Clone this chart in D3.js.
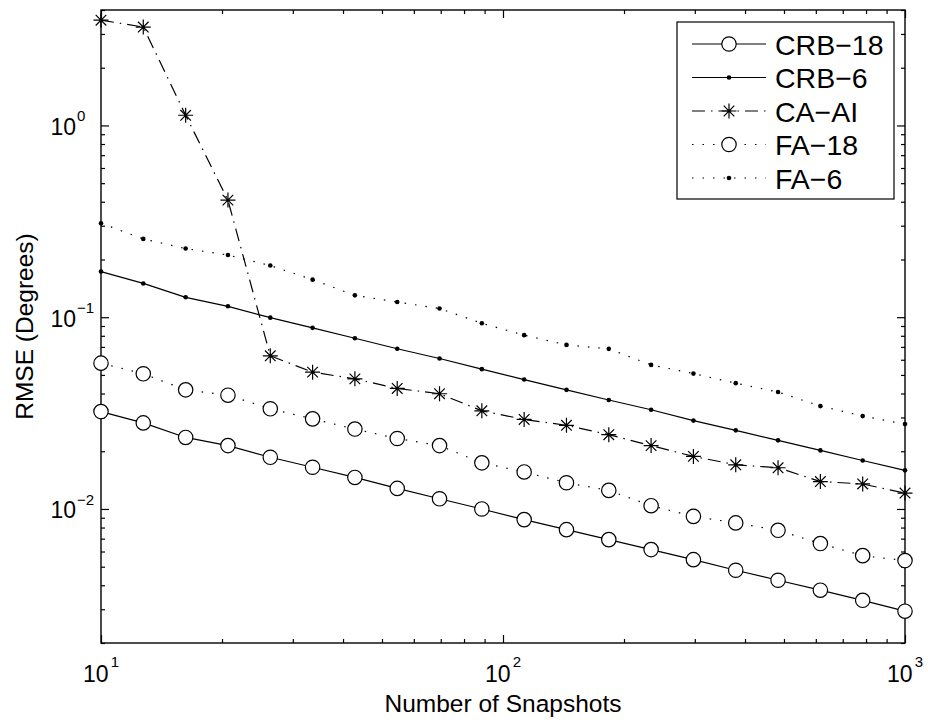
<!DOCTYPE html>
<html>
<head>
<meta charset="utf-8">
<script src="https://cdn.jsdelivr.net/npm/d3@7"></script>
<style>
  html, body { margin: 0; padding: 0; background: #fff; }
  svg { display: block; font-family: "Liberation Sans", Arial, sans-serif; }
</style>
</head>
<body>
<svg id="chart" width="928" height="722"></svg>
<script>
// ---------------- data ----------------
const snapshots = [10, 12.74, 16.24, 20.69, 26.37, 33.60, 42.81, 54.56, 69.52, 88.59,
                   112.88, 143.84, 183.30, 233.57, 297.64, 379.27, 483.29, 615.85, 784.76, 1000];

const crb18 = [0.0322, 0.0281, 0.0236, 0.0214, 0.0186, 0.0165, 0.0146, 0.0128, 0.0113, 0.0100,
               0.0088, 0.0078, 0.00692, 0.00614, 0.00544, 0.00479, 0.00425, 0.00377, 0.00334, 0.00293];
const crb6  = [0.173, 0.150, 0.127, 0.114, 0.0995, 0.0880, 0.0777, 0.0685, 0.0609, 0.0536,
               0.0473, 0.0418, 0.0370, 0.0329, 0.0289, 0.0257, 0.0228, 0.0202, 0.0179, 0.0159];
const caai  = [3.54, 3.26, 1.13, 0.408, 0.0629, 0.0517, 0.0477, 0.0425, 0.0399, 0.0325,
               0.0293, 0.0273, 0.0244, 0.0214, 0.0188, 0.0170, 0.0164, 0.0139, 0.0135, 0.0121];
const fa18  = [0.0576, 0.0507, 0.0418, 0.0392, 0.0333, 0.0295, 0.0261, 0.0233, 0.0214, 0.0174,
               0.0156, 0.0137, 0.0125, 0.0104, 0.00915, 0.00846, 0.00774, 0.00660, 0.00571, 0.00538];
const fa6   = [0.309, 0.256, 0.228, 0.211, 0.186, 0.157, 0.130, 0.120, 0.111, 0.0930,
               0.0806, 0.0717, 0.0684, 0.0564, 0.0508, 0.0453, 0.0407, 0.0344, 0.0305, 0.0277];

const seriesNames = ["CRB−18", "CRB−6", "CA−AI", "FA−18", "FA−6"];
const seriesValues = [crb18, crb6, caai, fa18, fa6];

const xMajorTicks = [10, 100, 1000];
const xMajorExp = ["1", "2", "3"];
const yMajorTicks = [0.01, 0.1, 1];
const yMajorExp = ["−2", "−1", "0"];
const xLabel = "Number of Snapshots";
const yLabel = "RMSE (Degrees)";

// ---------------- styles ----------------
const styles = [
  { dash: null,           marker: "circle" },
  { dash: null,           marker: "dot" },
  { dash: "13,6,1.5,6",   marker: "star" },
  { dash: "1.5,9",        marker: "circle" },
  { dash: "1.5,9",        marker: "dot" }
];

// ---------------- layout ----------------
const L = 101, R = 905, T = 10, B = 643;
const svg = d3.select("#chart");
const x = d3.scaleLog().domain([10, 1000]).range([L, R]);
const y = d3.scaleLog().domain([0.002, 4]).range([B, T]);

function minorTicks(lo, hi) {
  const out = [];
  for (let d = lo; d < hi; d *= 10) for (let k = 2; k <= 9; k++) out.push(+(d * k).toPrecision(3));
  return out;
}
const xMinor = minorTicks(10, 1000);
const yMinor = minorTicks(0.001, 10).filter(v => v >= 0.002 && v <= 4);

function drawAxis(axisFn, scale, vals, size, transform) {
  const g = svg.append("g").attr("transform", transform)
    .call(axisFn(scale).tickValues(vals).tickSize(-size).tickSizeOuter(0).tickFormat(""));
  g.select(".domain").remove();
  g.selectAll("line").attr("stroke", "#000").attr("stroke-width", 1.2);
}
drawAxis(d3.axisBottom, x, xMinor, 4, `translate(0,${B})`);
drawAxis(d3.axisBottom, x, xMajorTicks, 8, `translate(0,${B})`);
drawAxis(d3.axisTop, x, xMinor, 4, `translate(0,${T})`);
drawAxis(d3.axisTop, x, xMajorTicks, 8, `translate(0,${T})`);
drawAxis(d3.axisLeft, y, yMinor, 4, `translate(${L},0)`);
drawAxis(d3.axisLeft, y, yMajorTicks, 8, `translate(${L},0)`);
drawAxis(d3.axisRight, y, yMinor, 4, `translate(${R},0)`);
drawAxis(d3.axisRight, y, yMajorTicks, 8, `translate(${R},0)`);

svg.append("rect").attr("x", L).attr("y", T).attr("width", R - L).attr("height", B - T)
  .attr("fill", "none").attr("stroke", "#000").attr("stroke-width", 1.4);

// x tick labels
xMajorTicks.forEach((v, i) => {
  const t = svg.append("text").attr("x", x(v)).attr("y", B + 39)
    .attr("text-anchor", "middle").attr("font-size", 23);
  t.append("tspan").text("10");
  t.append("tspan").attr("dy", -15).attr("dx", 2).attr("font-size", 15).text(xMajorExp[i]);
});
// y tick labels
yMajorTicks.forEach((v, i) => {
  svg.append("text").attr("x", 76).attr("y", y(v) + 9.5)
    .attr("text-anchor", "end").attr("font-size", 23).text("10");
  svg.append("text").attr("x", 77).attr("y", y(v) - 4)
    .attr("text-anchor", "start").attr("font-size", 15).text(yMajorExp[i]);
});

// axis titles
svg.append("text").attr("x", (L + R) / 2).attr("y", 712)
  .attr("text-anchor", "middle").attr("font-size", 24.5).text(xLabel);
svg.append("text").attr("transform", `translate(33,${(T + B) / 2}) rotate(-90)`)
  .attr("text-anchor", "middle").attr("font-size", 24.5).text(yLabel);

// markers
function drawMarker(g, type, cx, cy) {
  if (type === "circle") {
    g.append("circle").attr("cx", cx).attr("cy", cy).attr("r", 7.2)
      .attr("fill", "#fff").attr("stroke", "#000").attr("stroke-width", 1.2);
  } else if (type === "dot") {
    g.append("circle").attr("cx", cx).attr("cy", cy).attr("r", 2.3).attr("fill", "#000");
  } else {
    const r = 7.5, d = 5.3;
    const p = `M${cx - r},${cy}L${cx + r},${cy}M${cx},${cy - r}L${cx},${cy + r}` +
              `M${cx - d},${cy - d}L${cx + d},${cy + d}M${cx - d},${cy + d}L${cx + d},${cy - d}`;
    g.append("path").attr("d", p).attr("stroke", "#000").attr("stroke-width", 1.2).attr("fill", "none");
  }
}

const line = d3.line().x(d => x(d[0])).y(d => y(d[1]));
seriesValues.forEach((vals, si) => {
  const pts = snapshots.map((s, i) => [s, vals[i]]);
  const g = svg.append("g");
  g.append("path").datum(pts).attr("d", line)
    .attr("fill", "none").attr("stroke", "#000").attr("stroke-width", 1.2)
    .attr("stroke-dasharray", styles[si].dash);
  pts.forEach(p => drawMarker(g, styles[si].marker, x(p[0]), y(p[1])));
});

// legend
const lg = svg.append("g");
lg.append("rect").attr("x", 677).attr("y", 22).attr("width", 217).attr("height", 177)
  .attr("fill", "#fff").attr("stroke", "#000").attr("stroke-width", 1.2);
seriesNames.forEach((name, i) => {
  const cy = 44 + i * 33.5;
  lg.append("line").attr("x1", 692).attr("x2", 766).attr("y1", cy).attr("y2", cy)
    .attr("stroke", "#000").attr("stroke-width", 1.2).attr("stroke-dasharray", styles[i].dash);
  drawMarker(lg, styles[i].marker, 729, cy);
  lg.append("text").attr("x", 775).attr("y", cy + 10.5).attr("font-size", 28.5).text(name);
});
</script>
</body>
</html>
